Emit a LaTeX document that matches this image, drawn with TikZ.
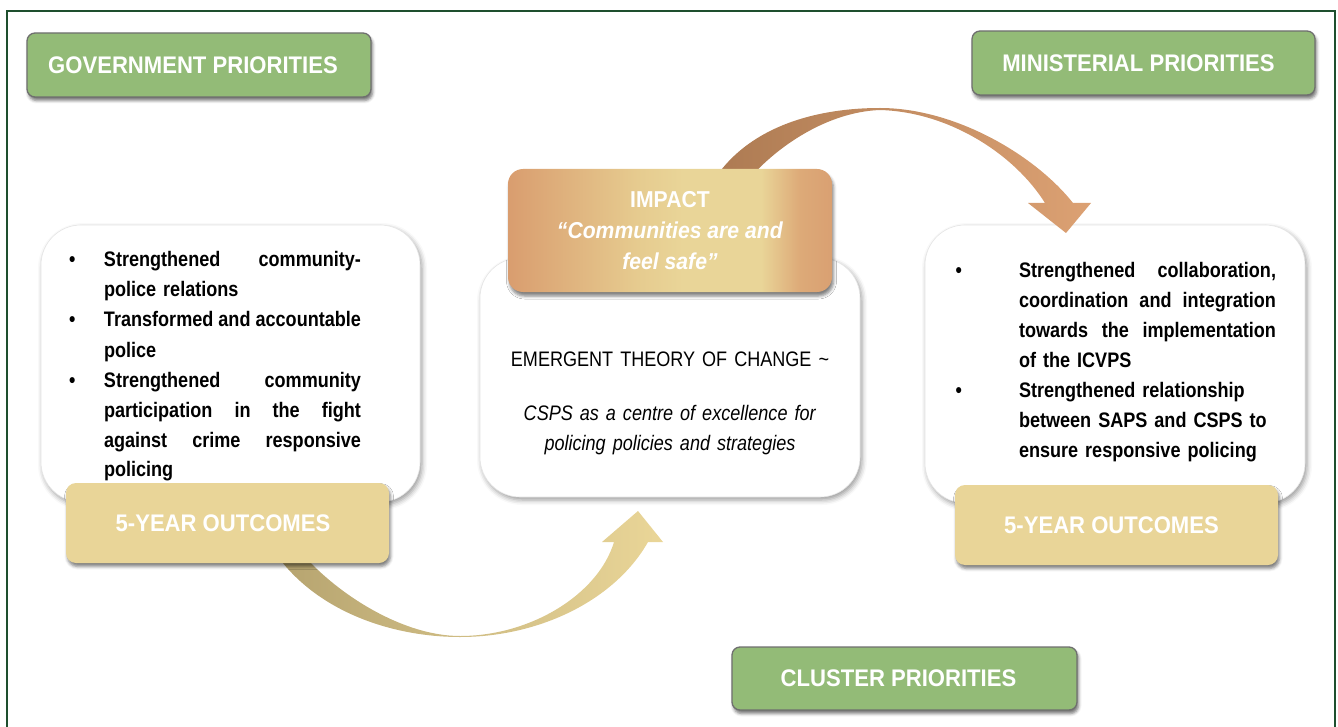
\documentclass[tikz,border=0pt]{standalone}
\usepackage{fontspec}
\setmainfont{Liberation Sans}
\newfontfamily\headfont[FakeStretch=0.92]{Liberation Sans}
\newfontfamily\bodyfont[FakeStretch=0.86]{Liberation Sans}
\usetikzlibrary{shadows.blur}

\definecolor{framegreen}{HTML}{1E4F2E}
\definecolor{prioGreen}{HTML}{93BB77}
\definecolor{prioEdge}{HTML}{6F6F6F}
\definecolor{outcomeFill}{HTML}{E9D598}
\definecolor{impL}{HTML}{D99D6F}
\definecolor{impM}{HTML}{E6CB8F}
\definecolor{impH}{HTML}{E9D598}
\definecolor{impRtwo}{HTML}{DDAA78}
\definecolor{impR}{HTML}{D9A072}
\definecolor{arrTopL}{HTML}{AC7A52}
\definecolor{arrTopR}{HTML}{DCA173}
\definecolor{arrBotL}{HTML}{B5A36F}
\definecolor{arrBotR}{HTML}{EAD698}

% left-to-right fill of the impact banner (25bp..75bp spans the node)
\pgfdeclarehorizontalshading{impactfill}{100bp}{color(0bp)=(impL); color(25bp)=(impL); color(45bp)=(impM); color(52bp)=(impH); color(64bp)=(impH); color(70bp)=(impRtwo); color(75bp)=(impR); color(100bp)=(impR)}

% one fully justified line of bullet text
\newcommand\justline[1]{\hbox to 257pt{\spaceskip=0pt plus 1fil\relax #1}}
% one left-aligned line of bullet text
\newcommand\raggedline[1]{\hbox to 257pt{#1\hfil}}

\tikzset{
  prio/.style={draw=prioEdge, line width=1.3pt, fill=prioGreen, rounded corners=8pt,
    inner sep=0pt, outer sep=0pt, text=white,
    font=\headfont\bfseries\fontsize{24}{28}\selectfont,
    blur shadow={shadow xshift=1.5pt, shadow yshift=-3.5pt, shadow blur radius=3pt, shadow opacity=55}},
  card/.style={fill=white, draw=gray!20, line width=0.6pt, rounded corners=40pt, inner sep=0pt, outer sep=0pt,
    blur shadow={shadow xshift=2pt, shadow yshift=-3pt, shadow blur radius=5pt, shadow opacity=40}},
  outcome/.style={fill=outcomeFill, rounded corners=10pt, inner sep=0pt, outer sep=0pt, text=white,
    font=\headfont\bfseries\fontsize{24}{28}\selectfont,
    blur shadow={shadow xshift=1.5pt, shadow yshift=-3.5pt, shadow blur radius=3pt, shadow opacity=50}},
  impact/.style={shade, shading=impactfill, rounded corners=15pt, inner sep=0pt, outer sep=0pt, text=white,
    align=center, font=\headfont\bfseries\fontsize{23}{31}\selectfont,
    blur shadow={shadow xshift=1.5pt, shadow yshift=-4pt, shadow blur radius=3pt, shadow opacity=50}},
  cardtext/.style={inner sep=0pt, outer sep=0pt, anchor=north west, text width=330pt, align=left,
    font=\bodyfont\bfseries\fontsize{21}{30}\selectfont},
  midtext/.style={inner sep=0pt, outer sep=0pt, anchor=north, text width=380pt, align=center,
    font=\bodyfont\fontsize{21}{30}\selectfont},
}

\begin{document}
\begin{tikzpicture}[x=1pt, y=-1pt]
\useasboundingbox (0,0) rectangle (1338,727);

% outer frame
\draw[framegreen, line width=2pt] (7,745) -- (7,11) -- (1335,11) -- (1335,745);

% white cards
\node[card, minimum width=379pt, minimum height=277pt] (lw) at (230.5,363.5) {};
\node[card, minimum width=380pt, minimum height=239pt] (cw) at (670,377.5) {};
\node[card, minimum width=380pt, minimum height=278pt] (rw) at (1115,364) {};

% curved block arrow: outcomes -> theory of change
\path[shade, left color=arrBotL, right color=arrBotR]
  (270,545) .. controls (310,610) and (390,637) .. (460,637)
  .. controls (540,637) and (615,600) .. (648,542)
  -- (663,542) -- (638,511) -- (602,542) -- (614,542)
  .. controls (598,595) and (530,636) .. (460,636)
  .. controls (400,636) and (330,590) .. (295,545) -- cycle;

% curved block arrow: impact -> ministerial outcomes
\path[shade, left color=arrTopL, right color=arrTopR]
  (708,190) .. controls (740,130) and (810,108) .. (880,108)
  .. controls (955,108) and (1035,155) .. (1073,203)
  -- (1091,203) -- (1066,233) -- (1028,203) -- (1045,203)
  .. controls (1015,155) and (950,112) .. (880,110)
  .. controls (825,112) and (770,150) .. (740,190) -- cycle;

% priority labels
\node[prio, minimum width=344pt, minimum height=64pt] (gov) at (199,65) {GOVERNMENT PRIORITIES\hspace*{12pt}};
\node[prio, minimum width=343pt, minimum height=64pt] (mini) at (1143.5,63) {MINISTERIAL PRIORITIES\hspace*{10pt}};
\node[prio, minimum width=345pt, minimum height=63pt] (clu) at (904.5,678.5) {CLUSTER PRIORITIES\hspace*{12pt}};

% outcome labels
\node[outcome, minimum width=323pt, minimum height=80pt] (lo) at (227.5,523) {5-YEAR OUTCOMES\hspace*{9pt}};
\node[outcome, minimum width=323pt, minimum height=80pt] (ro) at (1116.5,525) {5-YEAR OUTCOMES\hspace*{10pt}};

% impact banner
\node[impact, minimum width=324pt, minimum height=123pt] (imp) at (670,230.5)
  {IMPACT\\ \textit{“Communities are and}\\ \textit{feel safe”}};

% card texts
\node[cardtext] (lt) at (69,246) {%
\strut\makebox[35pt][l]{\textbullet}\justline{Strengthened community-}\\
\strut\hspace*{35pt}\raggedline{police relations}\\
\strut\makebox[35pt][l]{\textbullet}\justline{Transformed and accountable}\\
\strut\hspace*{35pt}\raggedline{police}\\
\strut\makebox[35pt][l]{\textbullet}\justline{Strengthened community}\\
\strut\hspace*{35pt}\justline{participation in the fight}\\
\strut\hspace*{35pt}\justline{against crime responsive}\\
\strut\hspace*{35pt}\raggedline{policing}};

\node[midtext] (ct) at (670,345) {%
\strut EMERGENT THEORY OF CHANGE \textasciitilde\\[24pt]
\strut\textit{CSPS as a centre of excellence for}\\
\strut\textit{policing policies and strategies}};

\node[cardtext] (rt) at (955.5,256) {%
\strut\makebox[63.5pt][l]{\textbullet}\justline{Strengthened collaboration,}\\
\strut\hspace*{63.5pt}\justline{coordination and integration}\\
\strut\hspace*{63.5pt}\justline{towards the implementation}\\
\strut\hspace*{63.5pt}\raggedline{of the ICVPS}\\
\strut\makebox[63.5pt][l]{\textbullet}\raggedline{Strengthened relationship}\\
\strut\hspace*{63.5pt}\raggedline{between SAPS and CSPS to}\\
\strut\hspace*{63.5pt}\raggedline{ensure responsive policing}};
\end{tikzpicture}
\end{document}
